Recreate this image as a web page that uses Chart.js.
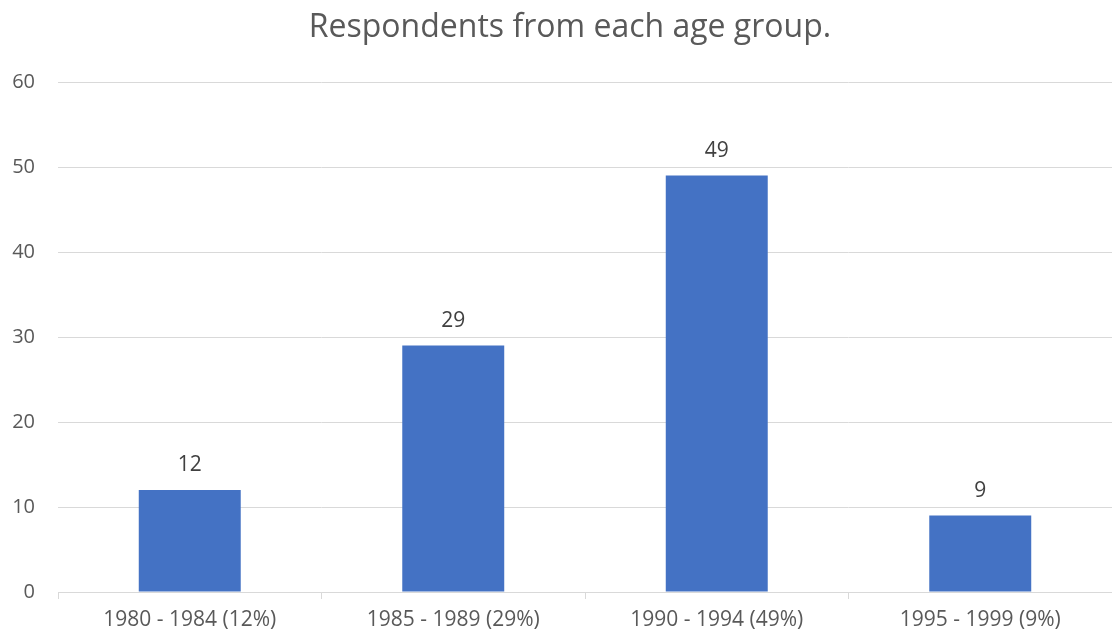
<!DOCTYPE html>
<html>
<head>
<meta charset="utf-8">
<script src="https://cdn.jsdelivr.net/npm/chart.js@4"></script>
<style>
  html, body { margin: 0; padding: 0; background: #ffffff; }
  #wrap { width: 1112px; height: 637px; position: relative; }
</style>
</head>
<body>
<div id="wrap"><canvas id="chart"></canvas></div>
<script>
// Respondents per birth-year group
const categories = ['1980 - 1984 (12%)', '1985 - 1989 (29%)', '1990 - 1994 (49%)', '1995 - 1999 (9%)'];
const respondents = [12, 29, 49, 9];
const yTicks = [0, 10, 20, 30, 40, 50, 60];
const chartTitle = 'Respondents from each age group.';

const FONT = '"Open Sans", "Noto Sans", sans-serif';

// Writes each bar's value just above it
const valueLabels = {
  id: 'valueLabels',
  afterDatasetsDraw(chart) {
    const ctx = chart.ctx;
    const meta = chart.getDatasetMeta(0);
    ctx.save();
    ctx.font = '21px ' + FONT;
    ctx.fillStyle = '#404040';
    ctx.textAlign = 'center';
    ctx.textBaseline = 'alphabetic';
    meta.data.forEach((bar, i) => {
      ctx.fillText(String(respondents[i]), bar.x, bar.y - 19);
    });
    ctx.restore();
  }
};

// Heading centred a little left of the plot area's middle
const heading = {
  id: 'heading',
  afterDraw(chart) {
    const ctx = chart.ctx;
    const area = chart.chartArea;
    ctx.save();
    ctx.font = '32px ' + FONT;
    ctx.fillStyle = '#595959';
    ctx.textAlign = 'center';
    ctx.textBaseline = 'middle';
    ctx.fillText(chartTitle, (area.left + area.right) / 2 - 15, 28);
    ctx.restore();
  }
};

new Chart(document.getElementById('chart'), {
  type: 'bar',
  data: {
    labels: categories,
    datasets: [{
      data: respondents,
      backgroundColor: '#4472C4',
      borderWidth: 0,
      barPercentage: 0.387,
      categoryPercentage: 1.0
    }]
  },
  options: {
    responsive: true,
    maintainAspectRatio: false,
    animation: false,
    layout: { padding: { left: 0, right: 0, top: 82, bottom: 0 } },
    plugins: {
      legend: { display: false },
      tooltip: { enabled: false },
      title: { display: false }
    },
    scales: {
      y: {
        min: 0,
        max: 60,
        afterBuildTicks(scale) { scale.ticks = yTicks.map(v => ({ value: v })); },
        afterFit(scale) { scale.width = 58; },
        border: { display: false },
        grid: { color: '#d9d9d9', lineWidth: 1, drawTicks: false },
        ticks: {
          color: '#595959',
          padding: 23,
          font: { family: FONT, size: 20 }
        }
      },
      x: {
        afterFit(scale) { scale.height = 45; },
        border: { display: true, color: '#d9d9d9', width: 1 },
        grid: { display: true, drawOnChartArea: false, offset: true, color: '#d9d9d9', tickLength: 7 },
        ticks: {
          color: '#595959',
          padding: 8,
          maxRotation: 0,
          autoSkip: false,
          font: { family: FONT, size: 21 }
        }
      }
    }
  },
  plugins: [valueLabels, heading]
});
</script>
</body>
</html>
